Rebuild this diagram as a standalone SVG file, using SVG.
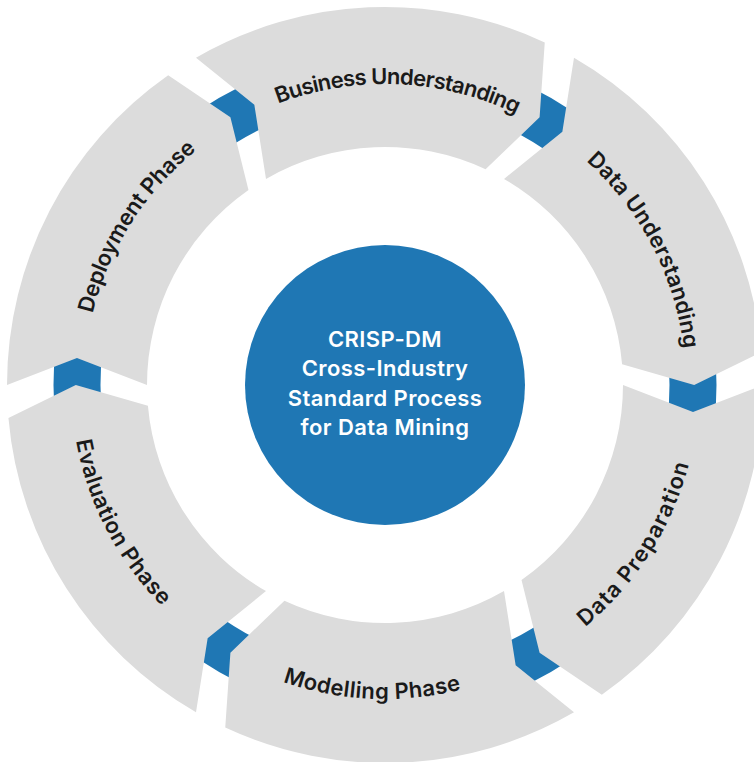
<svg xmlns="http://www.w3.org/2000/svg" width="754" height="762" viewBox="0 0 754 762">
<style>
.seg{fill:#dcdcdc;stroke:none}
.conn{fill:none;stroke:#1f77b4;stroke-width:47;stroke-linecap:butt}
.lbl{font-family:Inter,"Open Sans","Liberation Sans",sans-serif;font-weight:600;font-size:22px;fill:#1a1a1a}
.ctr{font-family:Inter,"Open Sans","Liberation Sans",sans-serif;font-weight:600;font-size:22px;letter-spacing:0.4px;fill:#ffffff;text-anchor:middle}
</style>
<defs>
<path id="tp-dep" d="M 84.29 371.87 A 301 301 0 0 1 246.01 118.01"/>
<path id="tp-bus" d="M 246.01 118.01 A 301 301 0 0 1 546.73 131.14"/>
<path id="tp-du" d="M 546.73 131.14 A 301 301 0 0 1 685.71 398.13"/>
<path id="tp-dp" d="M 529.99 663.52 A 314 314 0 0 0 698.70 398.70"/>
<path id="tp-mod" d="M 216.29 649.83 A 314 314 0 0 0 529.99 663.52"/>
<path id="tp-eva" d="M 71.30 371.30 A 314 314 0 0 0 216.29 649.83"/>
</defs>
<rect width="754" height="762" fill="#ffffff"/>
<g id="connectors">
<path class="conn" d="M 690.70 347.46 A 308 308 0 0 1 690.70 422.54"/>
<path class="conn" d="M 570.36 630.98 A 308 308 0 0 1 505.35 668.52"/>
<path class="conn" d="M 264.65 668.52 A 308 308 0 0 1 199.64 630.98"/>
<path class="conn" d="M 79.30 422.54 A 308 308 0 0 1 79.30 347.46"/>
<path class="conn" d="M 199.64 139.02 A 308 308 0 0 1 264.65 101.48"/>
<path class="conn" d="M 505.35 101.48 A 308 308 0 0 1 570.36 139.02"/>
</g>
<g id="business-understanding">
<path class="seg" d="M 196 57.64 A 378 378 0 0 1 544.75 42.42 L 539.6 117.23 L 485.58 169.30 A 238 238 0 0 0 266 178.89 L 254.33 104.77 Z"/>
<text class="lbl"><textPath href="#tp-bus" startOffset="50%" text-anchor="middle" textLength="245" lengthAdjust="spacing">Business Understanding</textPath></text>
</g>
<g id="data-understanding">
<path class="seg" d="M 574 57.64 A 378 378 0 0 1 761.56 352.05 L 694.2 385 L 622.09 364.26 A 238 238 0 0 0 504 178.89 L 562.35 131.72 Z"/>
<text class="lbl"><textPath href="#tp-du" startOffset="50%" text-anchor="middle" textLength="216" lengthAdjust="spacing">Data Understanding</textPath></text>
</g>
<g id="data-preparation">
<path class="seg" d="M 763 385 A 378 378 0 0 1 601.82 694.64 L 539.6 652.77 L 521.51 579.96 A 238 238 0 0 0 623 385 L 693.02 411.95 Z"/>
<text class="lbl"><textPath href="#tp-dp" startOffset="50%" text-anchor="middle" textLength="196" lengthAdjust="spacing">Data Preparation</textPath></text>
</g>
<g id="modelling-phase">
<path class="seg" d="M 574 712.36 A 378 378 0 0 1 225.25 727.58 L 230.4 652.77 L 284.42 600.70 A 238 238 0 0 0 504 591.11 L 515.67 665.23 Z"/>
<text class="lbl"><textPath href="#tp-mod" startOffset="50%" text-anchor="middle" textLength="181" lengthAdjust="spacing">Modelling Phase</textPath></text>
</g>
<g id="evaluation-phase">
<path class="seg" d="M 196 712.36 A 378 378 0 0 1 8.44 417.95 L 75.8 385 L 147.91 405.74 A 238 238 0 0 0 266 591.11 L 207.65 638.28 Z"/>
<text class="lbl"><textPath href="#tp-eva" startOffset="50%" text-anchor="middle" textLength="189" lengthAdjust="spacing">Evaluation Phase</textPath></text>
</g>
<g id="deployment-phase">
<path class="seg" d="M 7 385 A 378 378 0 0 1 168.18 75.36 L 230.4 117.23 L 248.49 190.04 A 238 238 0 0 0 147 385 L 76.98 358.05 Z"/>
<text class="lbl"><textPath href="#tp-dep" startOffset="50%" text-anchor="middle" textLength="197" lengthAdjust="spacing">Deployment Phase</textPath></text>
</g>
<g id="crisp-dm-center">
<circle cx="385" cy="385" r="140" fill="#1f77b4"/>
<text class="ctr" x="385" y="347">CRISP-DM</text>
<text class="ctr" x="385" y="376">Cross-Industry</text>
<text class="ctr" x="385" y="406">Standard Process</text>
<text class="ctr" x="385" y="435">for Data Mining</text>
</g>
</svg>
